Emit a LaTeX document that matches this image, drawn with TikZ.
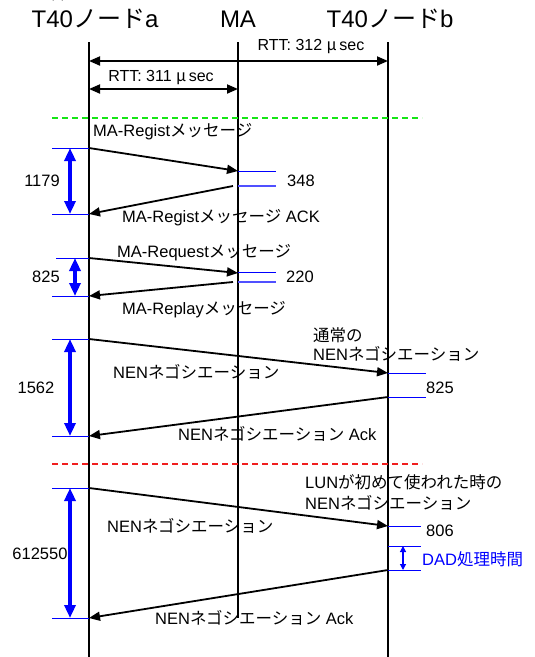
\documentclass[tikz,border=0pt]{standalone}
\usepackage{fontspec}
\setmainfont{Liberation Sans}
\newfontfamily\jp{Noto Sans CJK JP}
\newcommand\J[1]{{\jp #1}}
\usetikzlibrary{arrows.meta}
\definecolor{lblue}{RGB}{80,80,255}
\definecolor{dgreen}{RGB}{20,230,20}
\definecolor{dred}{RGB}{240,30,30}
\begin{document}
\begin{tikzpicture}[x=1pt,y=-1pt,
  life/.style={line width=1.8pt,black},
  msg/.style={line width=1.8pt,black,-{Triangle[length=11pt,width=9pt]}},
  tickline/.style={blue,line width=1pt},
  tickl/.style={lblue,line width=1.3pt},
  dim/.style={blue,line width=3.5pt,{Triangle[length=13pt,width=11pt]}-{Triangle[length=13pt,width=11pt]}},
  dimsmall/.style={blue,line width=1.2pt,{Triangle[length=6pt,width=6pt]}-{Triangle[length=6pt,width=6pt]}},
  rtt/.style={line width=1.8pt,black,{Triangle[length=11pt,width=9pt]}-{Triangle[length=11pt,width=9pt]}},
  sep/.style={line width=2.5pt,dash pattern=on 6pt off 4pt},
  lbl/.style={font=\fontsize{16.5}{19}\selectfont,inner sep=0pt},
  rlbl/.style={font=\fontsize{16}{18}\selectfont,inner sep=0pt},
  head/.style={font=\fontsize{24}{27}\selectfont,inner sep=0pt}]
\useasboundingbox (0,0) rectangle (535,657);
\fill[white] (0,0) rectangle (535,657);

% cut-off text at top
\node[lbl,anchor=base west] (frag) at (33,-1) {\J{と含める。}};

% headers
\node[head] (ha) at (95,19) {T40\J{ノード}a};
\node[head] (hm) at (238,19) {MA};
\node[head] (hb) at (390,19) {T40\J{ノード}b};

% lifelines
\coordinate (aT) at (89,42);  \coordinate (aB) at (89,657);
\coordinate (mT) at (238,42); \coordinate (mB) at (238,618);
\coordinate (bT) at (388,42); \coordinate (bB) at (388,657);
\draw[life] (aT) -- (aB);
\draw[life] (mT) -- (mB);
\draw[life] (bT) -- (bB);

% RTT
\coordinate (r1a) at (89,61); \coordinate (r1b) at (388,61);
\draw[rtt] (r1a) -- (r1b);
\node[rlbl] (rtt1) at (311,47) {RTT: 312 \J{μ}\,sec};
\coordinate (r2a) at (89,89); \coordinate (r2m) at (238,89);
\draw[rtt] (r2a) -- (r2m);
\node[rlbl] (rtt2) at (161,78) {RTT: 311 \J{μ}\,sec};

% separators
\coordinate (g1) at (52,118); \coordinate (g2) at (422,118);
\draw[sep,dgreen] (g1) -- (g2);
\coordinate (q1) at (52,464); \coordinate (q2) at (422,464);
\draw[sep,dred] (q1) -- (q2);

% ---- Section 1: MA-Regist
\coordinate (s1a) at (89,148); \coordinate (s1m) at (238,171);
\coordinate (s1m2) at (233,186); \coordinate (s1a2) at (89,214);
\draw[tickline] (52,148) -- (s1a);
\draw[tickline] (s1m) -- (276,171);
\draw[tickl] (238,186) -- (276,186);
\draw[tickline] (52,214) -- (s1a2);
\draw[msg] (s1a) -- (s1m);
\draw[msg] (s1m2) -- (s1a2);
\coordinate (d1t) at (70,148); \coordinate (d1b) at (70,214);
\draw[dim] (d1t) -- (d1b);
\node[lbl,anchor=west] (t1) at (93,132) {MA-Regist\J{メッセージ}};
\node[lbl] (n348) at (301,181) {348};
\node[lbl] (n1179) at (42,181) {1179};
\node[lbl,anchor=west] (t2) at (122,218) {MA-Regist\J{メッセージ} ACK};

% ---- Section 2: MA-Request
\coordinate (s2a) at (89,258); \coordinate (s2m) at (238,273);
\coordinate (s2m2) at (233,282); \coordinate (s2a2) at (89,296);
\draw[tickline] (56,258) -- (s2a);
\draw[tickline] (238,272) -- (276,272);
\draw[tickl] (238,282) -- (276,282);
\draw[tickline] (52,296) -- (s2a2);
\draw[msg] (s2a) -- (s2m);
\draw[msg] (s2m2) -- (s2a2);
\coordinate (d2t) at (75,258); \coordinate (d2b) at (75,296);
\draw[dim] (d2t) -- (d2b);
\node[lbl,anchor=west] (t3) at (117,253) {MA-Request\J{メッセージ}};
\node[lbl] (n220) at (300,277) {220};
\node[lbl] (n825a) at (46,277) {825};
\node[lbl,anchor=west] (t4) at (122,310) {MA-Replay\J{メッセージ}};

% ---- Section 3: normal NEN
\coordinate (s3a) at (89,339); \coordinate (s3b) at (388,373);
\coordinate (s3b2) at (388,397); \coordinate (s3a2) at (89,436);
\draw[tickline] (52,339) -- (s3a);
\draw[tickline] (s3b) -- (426,373);
\draw[tickline] (s3b2) -- (426,397);
\draw[tickline] (52,436) -- (s3a2);
\draw[msg] (s3a) -- (s3b);
\draw[msg] (s3b2) -- (s3a2);
\coordinate (d3t) at (70,339); \coordinate (d3b) at (70,436);
\draw[dim] (d3t) -- (d3b);
\node[lbl,anchor=west] (t5) at (313,335) {\J{通常の}};
\node[lbl,anchor=west] (t6) at (313,354) {NEN\J{ネゴシエーション}};
\node[lbl,anchor=west] (t7) at (113,372) {NEN\J{ネゴシエーション}};
\node[lbl] (n825b) at (440,388) {825};
\node[lbl] (n1562) at (36,388) {1562};
\node[lbl,anchor=west] (t8) at (178,434) {NEN\J{ネゴシエーション} Ack};

% ---- Section 4: first-use NEN
\coordinate (s4a) at (89,488); \coordinate (s4b) at (388,526);
\coordinate (s4b2) at (388,570); \coordinate (s4a2) at (89,618);
\draw[tickline] (52,488) -- (s4a);
\draw[tickline] (s4b) -- (421,526);
\draw[tickline] (388,546) -- (421,546);
\draw[tickline] (s4b2) -- (421,570);
\draw[tickline] (52,618) -- (s4a2);
\draw[msg] (s4a) -- (s4b);
\draw[msg] (s4b2) -- (s4a2);
\coordinate (d4t) at (70,488); \coordinate (d4b) at (70,618);
\draw[dim] (d4t) -- (d4b);
\coordinate (d5t) at (403,546); \coordinate (d5b) at (403,570);
\draw[dimsmall] (d5t) -- (d5b);
\node[lbl,anchor=west] (t9) at (305,482) {LUN\J{が初めて使われた時の}};
\node[lbl,anchor=west] (t10) at (305,503) {NEN\J{ネゴシエーション}};
\node[lbl,anchor=west] (t11) at (107,526) {NEN\J{ネゴシエーション}};
\node[lbl] (n806) at (440,531) {806};
\node[lbl,anchor=west,text=blue] (t12) at (422,559) {DAD\J{処理時間}};
\node[lbl] (n612) at (40,554) {612550};
\node[lbl,anchor=west] (t13) at (155,618) {NEN\J{ネゴシエーション} Ack};
\end{tikzpicture}
\end{document}
